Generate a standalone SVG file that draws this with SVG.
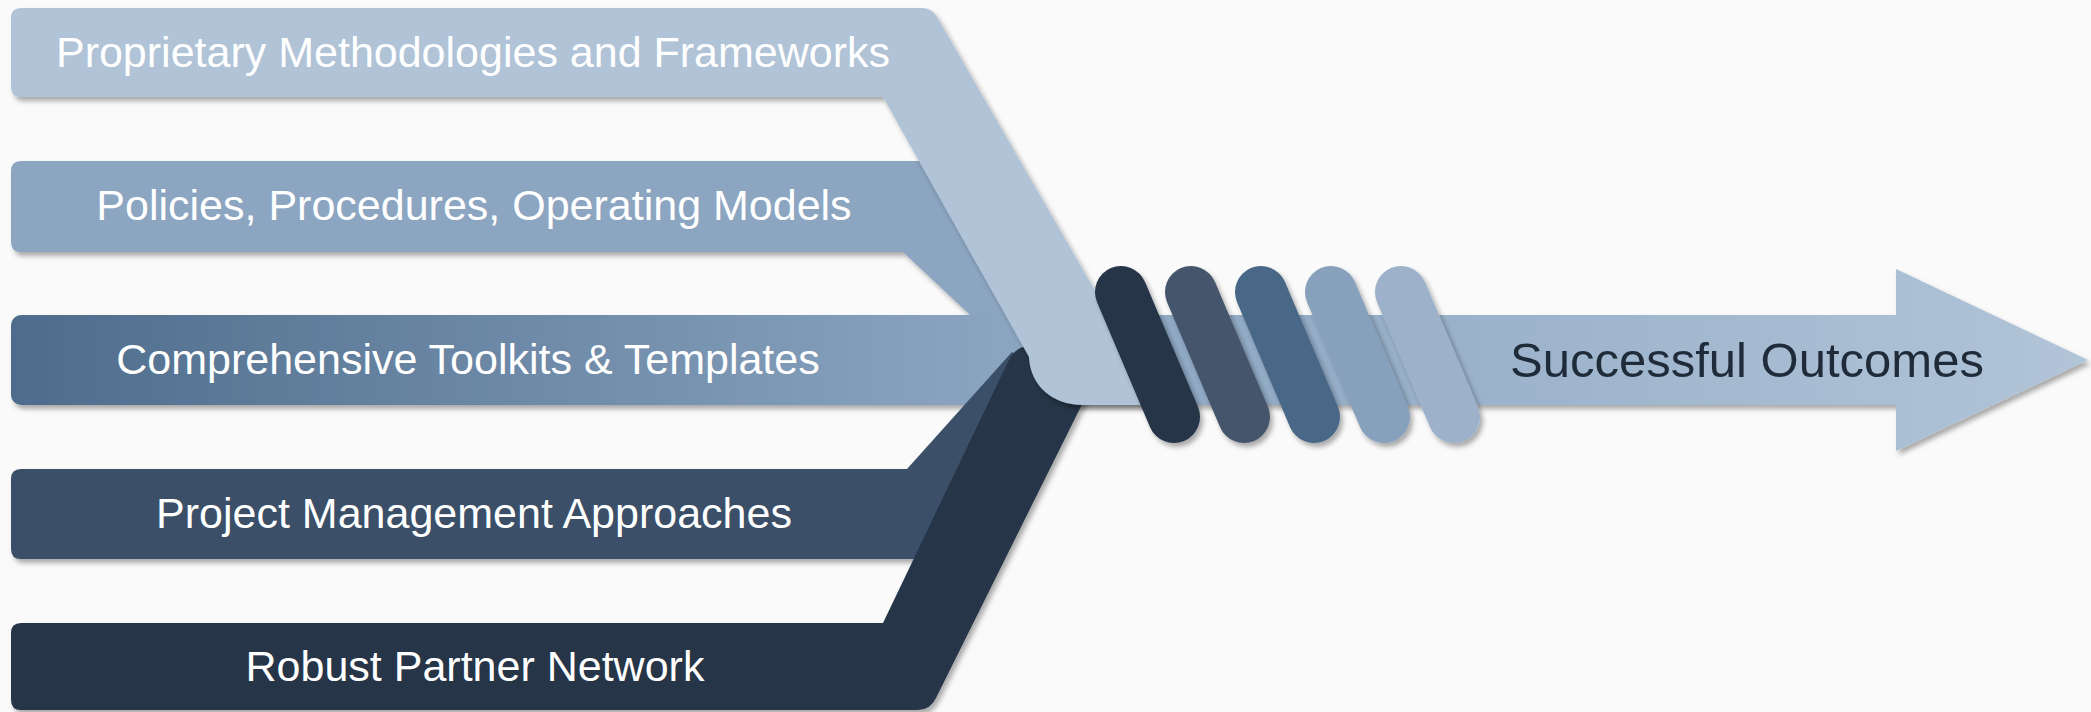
<svg xmlns="http://www.w3.org/2000/svg" width="2091" height="712" viewBox="0 0 2091 712">
  <defs>
    <filter id="sh" x="-10%" y="-10%" width="125%" height="125%">
      <feDropShadow dx="3" dy="4" stdDeviation="2.5" flood-color="#000000" flood-opacity="0.32"/>
    </filter>
    <filter id="shp" filterUnits="userSpaceOnUse" x="0" y="0" width="2091" height="712">
      <feDropShadow dx="3" dy="4" stdDeviation="2.5" flood-color="#000000" flood-opacity="0.32"/>
    </filter>
    <linearGradient id="gToolkits" gradientUnits="userSpaceOnUse" x1="11" y1="0" x2="1000" y2="0">
      <stop offset="0" stop-color="#4E6C8C"/>
      <stop offset="1" stop-color="#8BA5C1"/>
    </linearGradient>
    <linearGradient id="gShaft" gradientUnits="userSpaceOnUse" x1="1060" y1="0" x2="2088" y2="0">
      <stop offset="0" stop-color="#8CA6C2"/>
      <stop offset="1" stop-color="#B1C4D8"/>
    </linearGradient>
    <style>
      .lbl { font-family: "Liberation Sans", Arial, sans-serif; font-size: 43px; fill: #FFFFFF; text-anchor: middle; }
      .out { font-family: "Liberation Sans", Arial, sans-serif; font-size: 49px; fill: #1F2B38; text-anchor: middle; }
      .pill { fill: none; stroke-width: 52; stroke-linecap: round; filter: url(#shp); }
    </style>
  </defs>
  <rect x="0" y="0" width="2091" height="712" fill="#FAFAFA"/>

  <g id="node-outcomes">
    <path d="M1060,315 H1896 V269 L2088,360 L1896,451 V405 H1060 Z" fill="url(#gShaft)" filter="url(#sh)"/>
  </g>

  <g id="node-policies">
    <path d="M11,171 Q11,161 21,161 H950 L1040,315 H970 L903,252 H21 Q11,252 11,242 Z" fill="#8CA5C1" filter="url(#sh)"/>
    <text class="lbl" x="474" y="220">Policies, Procedures, Operating Models</text>
  </g>

  <g id="node-toolkits">
    <rect x="11" y="315" width="1030" height="90" rx="10" fill="url(#gToolkits)" filter="url(#sh)"/>
    <text class="lbl" x="468" y="374">Comprehensive Toolkits &amp; Templates</text>
  </g>

  <g id="node-project">
    <path d="M11,479 Q11,469 21,469 H907 L1012,352 L1040,370 L960,559 H21 Q11,559 11,549 Z" fill="#3A5068" filter="url(#sh)"/>
    <text class="lbl" x="474" y="528">Project Management Approaches</text>
  </g>

  <g id="node-partner">
    <path d="M11,633 Q11,623 21,623 H883 L1008,362 Q1015,346 1030,346 H1111 L936,698 Q930,710 918,710 H21 Q11,710 11,700 Z" fill="#253447" filter="url(#sh)"/>
    <text class="lbl" x="475" y="681">Robust Partner Network</text>
  </g>

  <g id="node-proprietary">
    <path d="M11,18 Q11,8 21,8 H922 Q932,8 937,17 L1109,315 L1150,405 H1083 C1052,405 1030,385 1029,357 L883,97 H21 Q11,97 11,87 Z" fill="#B0C3D7" filter="url(#sh)"/>
    <text class="lbl" x="473" y="67">Proprietary Methodologies and Frameworks</text>
  </g>

  <g id="connectors">
    <line class="pill" x1="1121" y1="292" x2="1174" y2="417" stroke="#253447"/>
    <line class="pill" x1="1191" y1="292" x2="1244" y2="417" stroke="#45566C"/>
    <line class="pill" x1="1261" y1="292" x2="1314" y2="417" stroke="#4A6787"/>
    <line class="pill" x1="1331" y1="292" x2="1384" y2="417" stroke="#87A0BC"/>
    <line class="pill" x1="1401" y1="292" x2="1454" y2="417" stroke="#9DB2CA"/>
  </g>

  <g id="outcome-label">
    <text class="out" x="1747" y="377">Successful Outcomes</text>
  </g>
</svg>
